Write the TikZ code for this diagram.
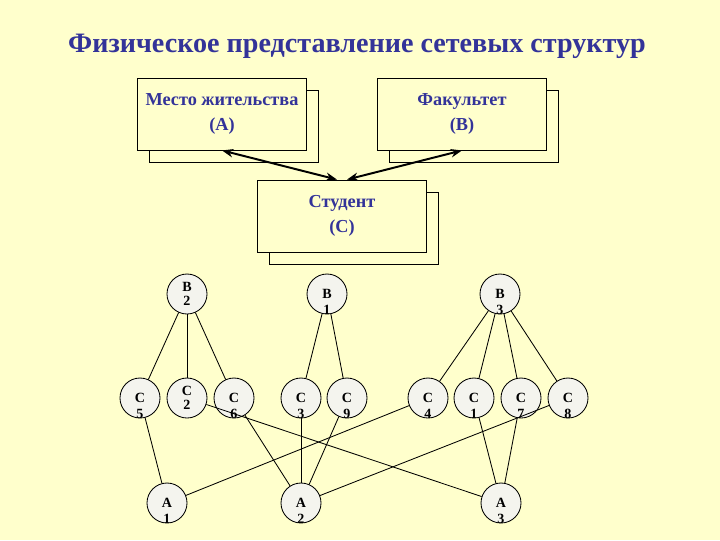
\documentclass[tikz,border=0pt]{standalone}
\usepackage{fontspec}
\setmainfont{Liberation Serif}
\usetikzlibrary{arrows.meta,calc}
\definecolor{bg}{RGB}{255,255,204}
\definecolor{navy}{RGB}{51,51,153}
\definecolor{disc}{RGB}{244,244,238}

\begin{document}
\begin{tikzpicture}[x=0.025cm, y=-0.025cm,
    box/.style={draw, line width=0.6pt, fill=bg, minimum width=4.22cm, minimum height=1.8cm,
      inner sep=0pt, align=center, text=navy, font=\bfseries\fontsize{13}{15}\selectfont},
    vertex/.style={draw, circle, line width=0.6pt, fill=disc, minimum size=1cm, inner sep=0pt,
      align=center, font=\bfseries\fontsize{10}{10}\selectfont},
    num/.style={label={[inner sep=0pt, label distance=-6.8pt,
      font=\bfseries\fontsize{10}{10}\selectfont]below:#1}},
    dbl/.style={{Stealth[length=8pt,width=6pt]}-{Stealth[length=8pt,width=6pt]}, line width=1.4pt},
    link/.style={line width=0.6pt}]

    \fill[bg] (0,0) rectangle (720,540);

    \node[text=navy, font=\bfseries\fontsize{20}{22}\selectfont] (title) at (357,46)
        {Физическое представление сетевых структур};

    \node[box] (Ash) at (234,126) {};
    \node[box] (A) at (222,114) {Место жительства\\[3pt](A)};
    \node[box] (Bsh) at (474,126) {};
    \node[box] (B) at (462,114) {Факультет\\[3pt](B)};
    \node[box] (Csh) at (354,228) {};
    \node[box] (C) at (342,216) {Студент\\[3pt](C)};

    \path[dbl]
        (A.south) edge ($(C.north)+(-5,0)$)
        (B.south) edge ($(C.north)+(5,0)$);

    \node[vertex] (B2) at (187,294) {B\\[-0.5pt]2};
    \node[vertex, num=1] (B1) at (327,294) {B};
    \node[vertex, num=3] (B3) at (500,294) {B};

    \node[vertex, num=5] (C5) at (140,398) {C};
    \node[vertex] (C2) at (187,398) {C\\[-0.5pt]2};
    \node[vertex, num=6] (C6) at (234,398) {C};
    \node[vertex, num=3] (C3) at (301,398) {C};
    \node[vertex, num=9] (C9) at (347,398) {C};
    \node[vertex, num=4] (C4) at (428,398) {C};
    \node[vertex, num=1] (C1) at (474,398) {C};
    \node[vertex, num=7] (C7) at (521,398) {C};
    \node[vertex, num=8] (C8) at (568,398) {C};

    \node[vertex, num=1] (A1) at (167,503) {A};
    \node[vertex, num=2] (A2) at (301,503) {A};
    \node[vertex, num=3] (A3) at (501,503) {A};

    \path[link]
        (B2) edge (C5)
        (B2) edge (C2)
        (B2) edge (C6)
        (B1) edge (C3)
        (B1) edge (C9)
        (B3) edge (C4)
        (B3) edge (C1)
        (B3) edge (C7)
        (B3) edge (C8)
        (C5) edge (A1)
        (C2) edge (A3)
        (C6) edge (A2)
        (C3) edge (A2)
        (C9) edge (A2)
        (C4) edge (A1)
        (C1) edge (A3)
        (C7) edge (A3)
        (C8) edge (A2);
\end{tikzpicture}
\end{document}
